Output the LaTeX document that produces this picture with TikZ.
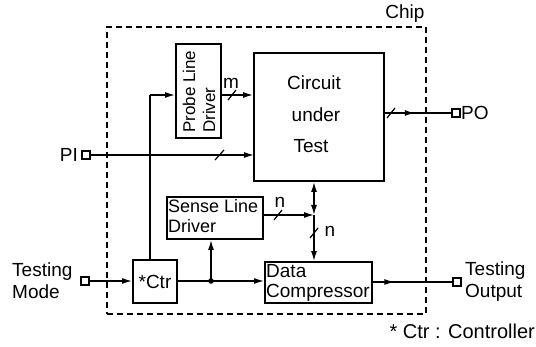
\documentclass[tikz,border=0pt]{standalone}
\usepackage{fontspec}
\setmainfont{Liberation Sans}
\usetikzlibrary{arrows.meta,decorations.markings}
\begin{document}
\begin{tikzpicture}[x=1pt,y=-1pt,
  every node/.style={font=\fontsize{19}{21}\selectfont},
  blk/.style={draw, line width=1.9pt, inner sep=0pt},
  con/.style={line width=1.4pt},
  arr/.style={con, -{Latex[length=10pt,width=6pt]}},
  midarr/.style={con, postaction=decorate, decoration={markings, mark=at position #1 with {\arrow{Latex[length=10pt,width=6pt]}}}},
  term/.style={draw, line width=1.3pt, minimum size=8pt, inner sep=0pt},
  slash/.style={line width=1.2pt},
  chipbox/.style={draw, line width=1.8pt, dash pattern=on 6pt off 4pt}
]
\useasboundingbox (0,0) rectangle (536,347);

% chip boundary
\node[chipbox, minimum width=319pt, minimum height=287pt, inner sep=0pt] (chip) at (266.5,170.5) {};
\node (chiplbl) at (405,14) {Chip};

% blocks
\node[blk, minimum width=45pt, minimum height=94pt] (probe) at (198.5,91) {};
\node[rotate=90, anchor=west, align=left, inner sep=0pt, font=\fontsize{17}{20}\selectfont] (probetxt) at (199,133) {Probe Line\\Driver};
\node[blk, minimum width=130pt, minimum height=128pt] (cut) at (319,117) {};
\node (t1) at (314,83) {Circuit};
\node (t2) at (316,115) {under};
\node (t3) at (311,146) {Test};
\node[blk, minimum width=96pt, minimum height=42pt] (sense) at (215,218) {};
\node[anchor=north west, align=left, inner sep=0pt, font=\fontsize{18}{20}\selectfont] (sensetxt) at (168,199) {Sense Line\\Driver};
\node[blk, minimum width=44pt, minimum height=43pt] (ctr) at (155,281.5) {*Ctr};
\node[blk, minimum width=107pt, minimum height=41pt] (comp) at (318.5,282.5) {};
\node[anchor=north west, align=left, inner sep=0pt, font=\fontsize{19}{20}\selectfont] (comptxt) at (266,264) {Data\\Compressor};

% terminals
\node[term] (pi) at (86,155) {};
\node[anchor=east, inner sep=0pt] (pilbl) at (78,155) {PI};
\node[term] (po) at (456,113) {};
\node[anchor=west, inner sep=0pt] (polbl) at (461,113) {PO};
\node[term] (tm) at (85,281) {};
\node[anchor=west, align=left, inner sep=0pt, font=\fontsize{19}{22}\selectfont] (tmlbl) at (12,281) {Testing\\Mode};
\node[term] (to) at (457,282) {};
\node[anchor=west, align=left, inner sep=0pt, font=\fontsize{19}{22}\selectfont] (tolbl) at (465,282) {Testing\\Output};
\node[anchor=east, inner sep=0pt, font=\fontsize{20}{22}\selectfont] (note) at (535,331) {* Ctr : Controller};

% coordinates
\coordinate (pijoin) at (254,155);
\coordinate (ctrup) at (150,95);
\coordinate (dot) at (211,281);
\coordinate (jn) at (314,215);

% connectors
\draw[arr] (pi.east) -- (pijoin);
\draw[slash] (215,160) -- (224,150);

\draw[con] (ctr.north -| ctrup) -- (ctrup);
\draw[arr] (ctrup) -- (probe.west |- ctrup);

\draw[arr] (probe.east |- 0,95) -- (cut.west |- 0,95);
\draw[slash] (228,100) -- (236,90);
\node (mlbl) at (231,83) {m};

\draw[midarr=0.45] (cut.east |- po) -- (po.west);
\draw[slash] (387,118) -- (395,108);

\draw[arr] (tm.east) -- (ctr.west |- tm);
\draw[arr] (ctr.east |- dot) -- (comp.west |- dot);
\fill (dot) circle (2.8pt);
\draw[arr] (dot) -- (sense.south -| dot);

\draw[midarr=0.27] (comp.east |- to) -- (to.west);

\draw[con, {Latex[length=10pt,width=6pt]}-{Latex[length=10pt,width=6pt]}] (cut.south -| jn) -- (jn);
\draw[arr] (sense.east |- jn) -- (jn);
\draw[slash] (274,220) -- (282,210);
\node (nlbl1) at (280,202) {n};
\draw[arr] (jn) -- (comp.north -| jn);
\draw[slash] (310,238) -- (318,228);
\node (nlbl2) at (330,231) {n};
\end{tikzpicture}
\end{document}
